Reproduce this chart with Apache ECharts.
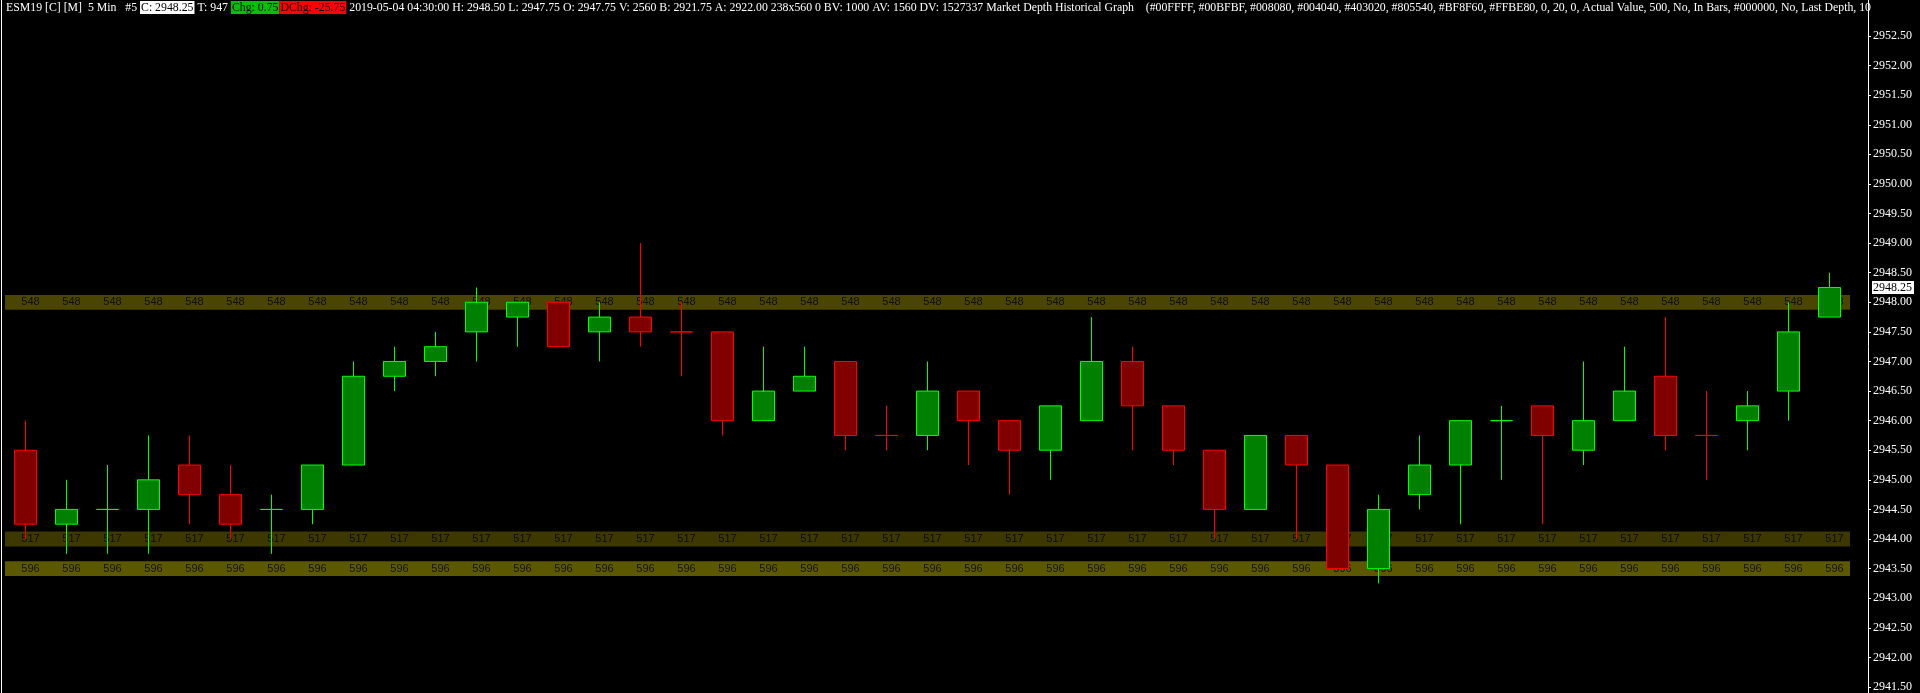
<!DOCTYPE html>
<html>
<head>
<meta charset="utf-8">
<title>ESM19 Market Depth Historical Graph</title>
<script src="https://cdn.jsdelivr.net/npm/echarts@6/dist/echarts.min.js"></script>
<style>
  html, body { margin: 0; padding: 0; background: #000; }
  #chart { width: 1920px; height: 693px; }
</style>
</head>
<body>
<div id="chart"></div>
<script>
// 45 five-minute bars (tick size 0.25)
var opens  = [2945.5, 2944.25, 2944.5, 2944.5, 2945.25, 2944.75, 2944.5, 2944.5, 2945.25, 2946.75,
              2947, 2947.5, 2947.75, 2948, 2947.5, 2947.75, 2947.5, 2947.5, 2946, 2946.5,
              2947, 2945.75, 2945.75, 2946.5, 2946, 2945.5, 2946, 2947, 2946.25, 2945.5,
              2944.5, 2945.75, 2945.25, 2943.5, 2944.75, 2945.25, 2946, 2946.25, 2945.5, 2946,
              2946.75, 2945.75, 2946, 2946.5, 2947.75]
var closes = [2944.25, 2944.5, 2944.5, 2945, 2944.75, 2944.25, 2944.5, 2945.25, 2946.75, 2947,
              2947.25, 2948, 2948, 2947.25, 2947.75, 2947.5, 2947.5, 2946, 2946.5, 2946.75,
              2945.75, 2945.75, 2946.5, 2946, 2945.5, 2946.25, 2947, 2946.25, 2945.5, 2944.5,
              2945.75, 2945.25, 2943.5, 2944.5, 2945.25, 2946, 2946, 2945.75, 2946, 2946.5,
              2945.75, 2945.75, 2946.25, 2947.5, 2948.25]
var lows   = [2944, 2943.75, 2943.75, 2943.75, 2944.25, 2944, 2943.75, 2944.25, 2945.25, 2946.5,
              2946.75, 2947, 2947.25, 2947.25, 2947, 2947.25, 2946.75, 2945.75, 2946, 2946.5,
              2945.5, 2945.5, 2945.5, 2945.25, 2944.75, 2945, 2946, 2945.5, 2945.25, 2944,
              2944.5, 2944, 2943.5, 2943.25, 2944.5, 2944.25, 2945, 2944.25, 2945.25, 2946,
              2945.5, 2945, 2945.5, 2946, 2947.75]
var highs  = [2946, 2945, 2945.25, 2945.75, 2945.75, 2945.25, 2944.75, 2945.25, 2947, 2947.25,
              2947.5, 2948.25, 2948, 2948, 2948, 2949, 2948, 2947.5, 2947.25, 2947.25,
              2947, 2946.25, 2947, 2946.5, 2946, 2946.25, 2947.75, 2947.25, 2946.25, 2945.5,
              2945.75, 2945.75, 2945.25, 2944.75, 2945.75, 2946, 2946.25, 2946.25, 2947, 2947.25,
              2947.75, 2946.5, 2946.5, 2948, 2948.5]

// market depth levels shown as bands, with their sizes
var depthPrices = [2948, 2944, 2943.5]
var depthSizes  = [548, 517, 596]
var depthColors = ['#4a4500', '#3c3800', '#5c5800']

var yTicks = [2941.5, 2942, 2942.5, 2943, 2943.5, 2944, 2944.5, 2945, 2945.5, 2946, 2946.5,
              2947, 2947.5, 2948, 2948.5, 2949, 2949.5, 2950, 2950.5, 2951, 2951.5, 2952, 2952.5]

// bar times, last bar is 04:30
var categories = []
for (var i = 0; i < opens.length; i++) {
  var m = 50 + i * 5
  var h = Math.floor(m / 60)
  categories.push('0' + h + ':' + ('0' + (m % 60)).slice(-2))
}

var UP = '#00ff00', DOWN = '#ff0000'

// a doji takes its colour from the previous close, or from the previous bar if equal
var dirs = []
var candleData = opens.map(function(o, i) {
  var c = closes[i]
  var d
  if (c > o) d = 1
  else if (c < o) d = -1
  else if (i > 0 && c > closes[i - 1]) d = 1
  else if (i > 0 && c < closes[i - 1]) d = -1
  else d = i > 0 ? dirs[i - 1] : 1
  dirs.push(d)
  var item = { value: [o, c, lows[i], highs[i]] }
  if (c === o) {
    var col = d > 0 ? UP : DOWN
    item.itemStyle = { borderColor: col, borderColor0: col, borderColorDoji: col }
  }
  return item
})

var depthSeries = depthPrices.map(function(p, k) {
  return {
    type: 'scatter',
    name: 'depth ' + depthSizes[k],
    z: 2,
    silent: true,
    symbolSize: 1,
    itemStyle: { color: 'rgba(0,0,0,0)' },
    data: categories.map(function(c, i) { return [i, p] }),
    label: {
      show: true,
      position: 'inside',
      offset: [5, 0],
      formatter: String(depthSizes[k]),
      color: '#000',
      fontFamily: 'Liberation Sans',
      fontSize: 11
    },
    markArea: {
      silent: true,
      z: 1,
      itemStyle: { color: depthColors[k] },
      data: [[{ yAxis: p - 0.125 }, { yAxis: p + 0.125 }]]
    }
  }
})

var last = opens.length - 1
var fmt = function(v) { return v.toFixed(2) }
var headText =
  '{w|ESM19 [C] [M]  5 Min   #5 }{c|C: ' + fmt(closes[last]) + '}{w| T: 947 }' +
  '{g|Chg: 0.75}{r|DChg: -25.75}' +
  '{w| 2019-05-04 04:30:00 H: ' + fmt(highs[last]) + ' L: ' + fmt(lows[last]) +
  ' O: ' + fmt(opens[last]) + ' V: 2560 B: 2921.75 A: 2922.00 238x560 0 BV: 1000 AV: 1560 DV: 1527337 ' +
  'Market Depth Historical Graph    (#00FFFF, #00BFBF, #008080, #004040, #403020, #805540, #BF8F60, ' +
  '#FFBE80, 0, 20, 0, Actual Value, 500, No, In Bars, #000000, No, Last Depth, 100)}'

var HF = 11.8  // header font size

var chart = echarts.init(document.getElementById('chart'))
chart.setOption({
  backgroundColor: '#000',
  animation: false,
  grid: { left: 5, right: 70, top: 0, bottom: 0 },
  xAxis: {
    type: 'category',
    data: categories,
    show: false
  },
  yAxis: {
    type: 'value',
    position: 'right',
    offset: 18,
    min: 2941.398,
    max: 2953.108,
    scale: true,
    splitLine: { show: false },
    axisLine: { show: true, lineStyle: { color: '#fff', width: 1 } },
    axisTick: { show: true, length: 3, lineStyle: { color: '#fff' }, customValues: yTicks },
    axisLabel: {
      color: '#fff',
      fontFamily: 'Liberation Serif',
      fontSize: 12,
      margin: 5,
      customValues: yTicks,
      formatter: fmt
    }
  },
  series: depthSeries.concat([{
    type: 'candlestick',
    name: 'ESM19',
    z: 3,
    barWidth: 23,
    data: candleData,
    itemStyle: {
      color: '#008000',
      color0: '#800000',
      borderColor: UP,
      borderColor0: DOWN,
      borderWidth: 1
    }
  }])
})

var lastY = chart.convertToPixel({ yAxisIndex: 0 }, closes[last])
chart.setOption({
  graphic: [
    {
      type: 'rect',
      shape: { x: 1, y: 0, width: 1, height: 693 },
      style: { fill: '#fff' },
      silent: true
    },
    {
      type: 'text',
      x: 1872,
      y: lastY,
      z: 10,
      style: {
        text: fmt(closes[last]),
        fill: '#000',
        backgroundColor: '#fff',
        padding: [1, 2, 0, 1],
        font: '12px "Liberation Serif"',
        verticalAlign: 'middle'
      }
    },
    {
      type: 'text',
      x: 6,
      y: 1,
      z: 10,
      style: {
        text: headText,
        width: 1874,
        overflow: 'truncate',
        ellipsis: '',
        font: HF + 'px "Liberation Serif"',
        rich: {
          w: { fill: '#fff', fontFamily: 'Liberation Serif', fontSize: HF },
          c: { fill: '#000', backgroundColor: '#fff', fontFamily: 'Liberation Serif', fontSize: HF, padding: [1, 1, 0, 1] },
          g: { fill: '#000', backgroundColor: '#00c000', fontFamily: 'Liberation Serif', fontSize: HF, padding: [1, 1, 0, 1] },
          r: { fill: '#000', backgroundColor: '#ff0000', fontFamily: 'Liberation Serif', fontSize: HF, padding: [1, 1, 0, 1] }
        }
      }
    }
  ]
})
</script>
</body>
</html>
